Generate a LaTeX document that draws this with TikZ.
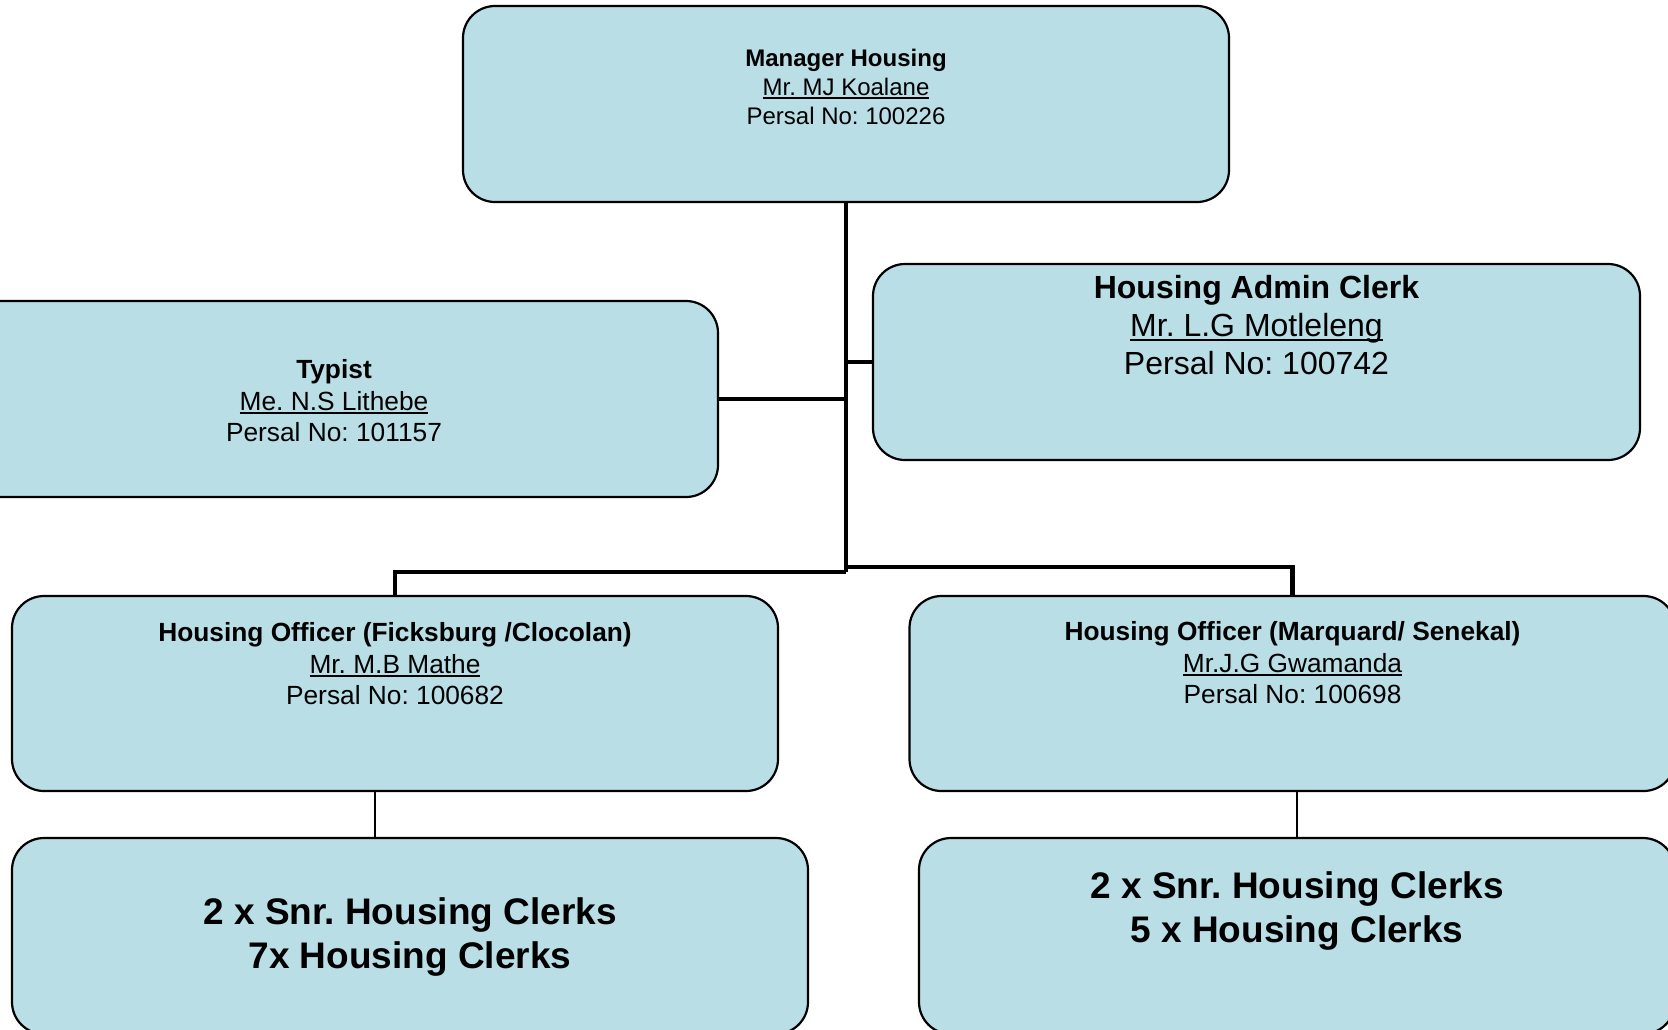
\documentclass[tikz,border=0pt]{standalone}
\usepackage{fontspec}
\setmainfont{Liberation Sans}
\frenchspacing
\definecolor{boxfill}{RGB}{185,222,230}
\newcommand\ulname[1]{\setbox0\hbox{#1}\rlap{\rule[-0.14em]{\wd0}{0.065em}}\box0}
\newcommand\fsz[1]{\fontsize{#1}{1.2\dimexpr #1pt\relax}\selectfont\frenchspacing}
\tikzset{
  orgbox/.style={draw=black, line width=2.2pt, fill=boxfill, rounded corners=32pt, inner sep=0pt},
  boxtext/.style={align=center, inner sep=0pt, text=black},
  thickconn/.style={draw=black, line width=4.8pt},
  thinconn/.style={draw=black, line width=2pt},
}
\begin{document}
\begin{tikzpicture}[x=1pt, y=-1pt]
\useasboundingbox (0,0) rectangle (1668,1029);
\clip (0,0) rectangle (1668,1029);
% boxes
\node[orgbox, minimum width=766pt, minimum height=196pt] (mgr) at (846,104) {};
\node[orgbox, minimum width=768pt, minimum height=196pt] (typ) at (334,399) {};
\node[orgbox, minimum width=767pt, minimum height=196pt] (adm) at (1256.5,362) {};
\node[orgbox, minimum width=766pt, minimum height=195pt] (offL) at (395,693.5) {};
\node[orgbox, minimum width=766pt, minimum height=195pt] (offR) at (1292.5,693.5) {};
\node[orgbox, minimum width=796pt, minimum height=196pt] (botL) at (410,936) {};
\node[orgbox, minimum width=756pt, minimum height=196pt] (botR) at (1297,936) {};
% texts
\node[boxtext, font=\fsz{24}] (mgrT) at (846,87) {\textbf{Manager Housing}\\ \ulname{Mr. MJ Koalane}\\ Persal No: 100226};
\node[boxtext, font=\fsz{26.3}] (typT) at (334,401) {\textbf{Typist}\\ \ulname{Me. N.S Lithebe}\\ Persal No: 101157};
\node[boxtext, font=\fsz{32}] (admT) at (1256.5,325) {\textbf{Housing Admin Clerk}\\ \ulname{Mr. L.G Motleleng}\\ Persal No: 100742};
\node[boxtext, font=\fsz{26.3}] (offLT) at (395,664) {\textbf{Housing Officer (Ficksburg /Clocolan)}\\ \ulname{Mr. M.B Mathe}\\ Persal No: 100682};
\node[boxtext, font=\fsz{26.3}] (offRT) at (1292.5,663) {\textbf{Housing Officer (Marquard/ Senekal)}\\ \ulname{Mr.J.G Gwamanda}\\ Persal No: 100698};
\node[boxtext, font=\fsz{37}\bfseries] (botLT) at (410,937) {2 x Snr. Housing Clerks\\ 7x Housing Clerks};
\node[boxtext, font=\fsz{37}\bfseries] (botRT) at (1297,911) {2 x Snr. Housing Clerks\\ 5 x Housing Clerks};
% connectors
\coordinate (trunkL) at (846,572);
\coordinate (trunkR) at (846,567);
\draw[thickconn] (mgr.south) -- (trunkL);
\draw[thickconn] (typ.east) -- (typ.east -| mgr.south);
\draw[thickconn] (adm.west) -- (adm.west -| mgr.south);
\draw[thickconn] (trunkL) -- (trunkL -| offL.north) -- (offL.north);
\draw[thickconn] (trunkR) -- (trunkR -| offR.north) -- (offR.north);
\draw[thinconn] ([xshift=-20pt]offL.south) -- ([xshift=-20pt]offL.south |- botL.north);
\draw[thinconn] ([xshift=4.5pt]offR.south) -- ([xshift=4.5pt]offR.south |- botR.north);
\end{tikzpicture}
\end{document}
